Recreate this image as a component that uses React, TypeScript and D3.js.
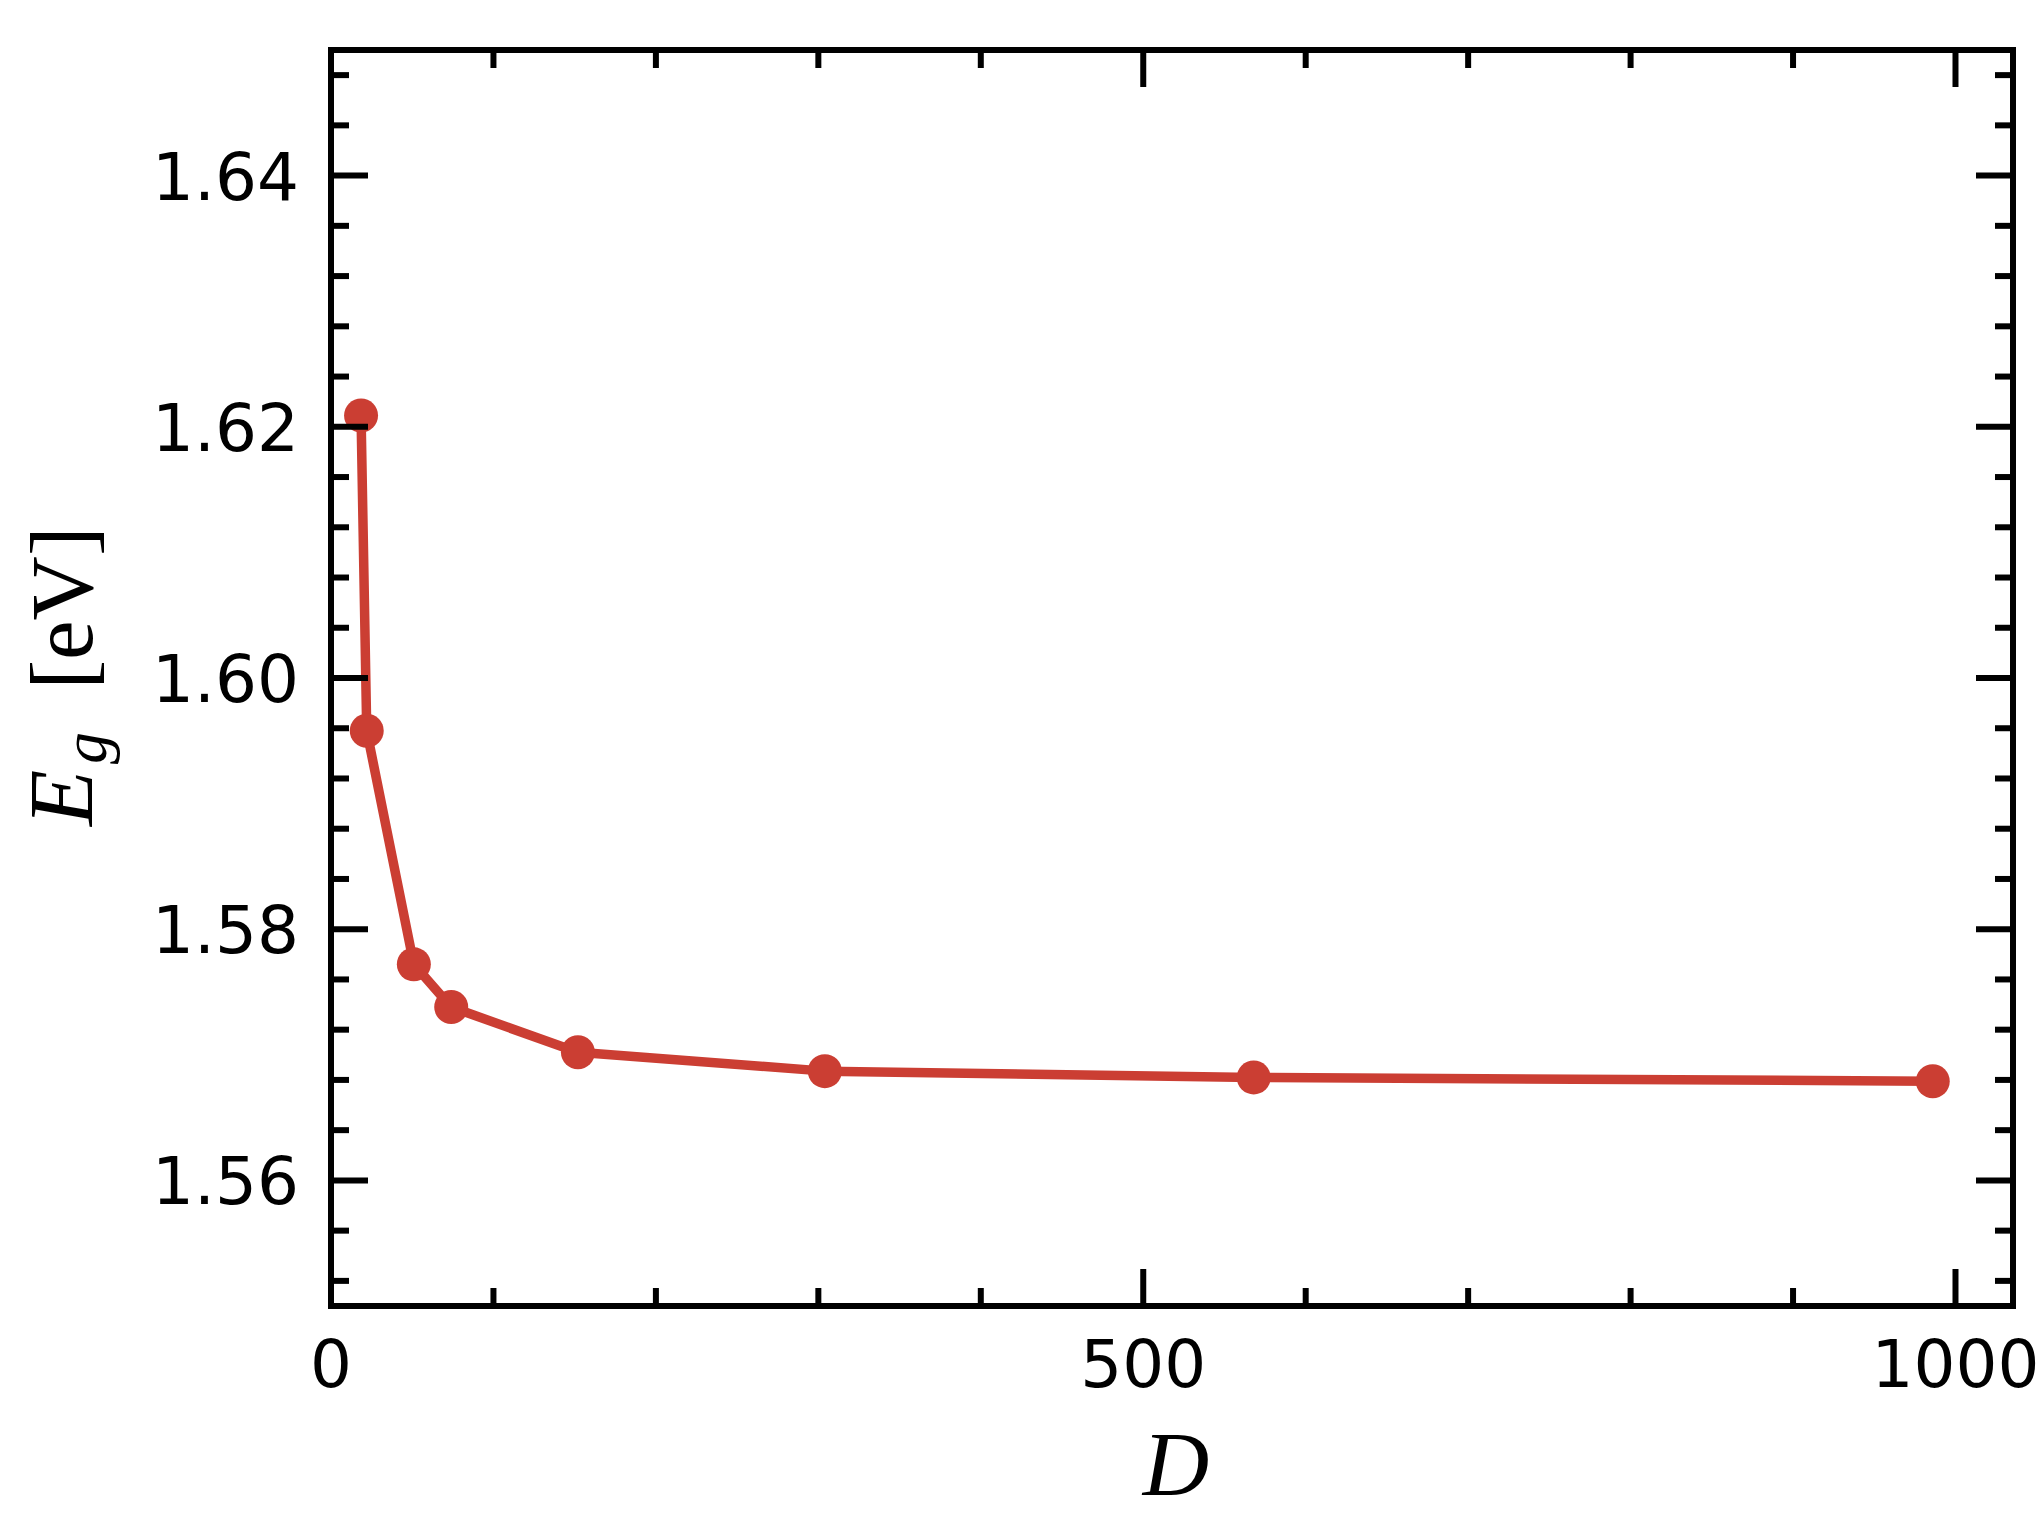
import React from "react";
import * as d3 from "d3";

const dValues = [18.5, 22, 51, 74, 152, 304, 568, 986];
const egValues = [1.6209, 1.5958, 1.5772, 1.5738, 1.5702, 1.5687, 1.5682, 1.5679];
const xMajorTicks = [0, 500, 1000];
const xMinorTicks = [100, 200, 300, 400, 600, 700, 800, 900];
const yMajorTicks = [1.56, 1.58, 1.6, 1.62, 1.64];
const yMinorTicks = [1.552, 1.556, 1.564, 1.568, 1.572, 1.576, 1.584, 1.588, 1.592, 1.596, 1.604, 1.608, 1.612, 1.616, 1.624, 1.628, 1.632, 1.636, 1.644, 1.648];

const W = 2038;
const H = 1531;
const L = 331, R = 2013, T = 50, B = 1306;
const RED = "#cb3e33";

export default function App() {
  const x = d3.scaleLinear().domain([0, 1035.4]).range([L, R]);
  const y = d3.scaleLinear().domain([1.55, 1.65]).range([B, T]);
  const line = d3.line<number>().x((_, i) => x(dValues[i])).y((v) => y(v));
  const majLen = 37, minLen = 18, tw = 6;
  const tickFont = "'DejaVu Sans', sans-serif";
  const serif = "'Liberation Serif', 'DejaVu Serif', serif";
  return (
    <svg width={W} height={H} style={{ position: "absolute", left: 0, top: 0, background: "#fff" }}>
      <rect x={0} y={0} width={W} height={H} fill="#fff" />
      <path d={line(egValues) || ""} fill="none" stroke={RED} strokeWidth={9.5} strokeLinejoin="round" />
      {egValues.map((v, i) => (
        <circle key={i} cx={x(dValues[i])} cy={y(v)} r={17} fill={RED} />
      ))}
      {xMajorTicks.map((t) => (
        <g key={"xm" + t} stroke="#000" strokeWidth={tw}>
          <line x1={x(t)} x2={x(t)} y1={B} y2={B - majLen} />
          <line x1={x(t)} x2={x(t)} y1={T} y2={T + majLen} />
        </g>
      ))}
      {xMinorTicks.map((t) => (
        <g key={"xn" + t} stroke="#000" strokeWidth={tw}>
          <line x1={x(t)} x2={x(t)} y1={B} y2={B - minLen} />
          <line x1={x(t)} x2={x(t)} y1={T} y2={T + minLen} />
        </g>
      ))}
      {yMajorTicks.map((t) => (
        <g key={"ym" + t} stroke="#000" strokeWidth={tw}>
          <line x1={L} x2={L + majLen} y1={y(t)} y2={y(t)} />
          <line x1={R} x2={R - majLen} y1={y(t)} y2={y(t)} />
        </g>
      ))}
      {yMinorTicks.map((t) => (
        <g key={"yn" + t} stroke="#000" strokeWidth={tw}>
          <line x1={L} x2={L + minLen} y1={y(t)} y2={y(t)} />
          <line x1={R} x2={R - minLen} y1={y(t)} y2={y(t)} />
        </g>
      ))}
      <rect x={L} y={T} width={R - L} height={B - T} fill="none" stroke="#000" strokeWidth={6} />
      {xMajorTicks.map((t) => (
        <text key={"xl" + t} x={x(t)} y={1387} textAnchor="middle" fontFamily={tickFont} fontSize={66} fill="#000">
          {String(t)}
        </text>
      ))}
      {yMajorTicks.map((t) => (
        <text key={"yl" + t} x={299} y={y(t) + 24} textAnchor="end" fontFamily={tickFont} fontSize={66} fill="#000">
          {t.toFixed(2)}
        </text>
      ))}
      <text x={1176} y={1495} textAnchor="middle" fontFamily={serif} fontStyle="italic" fontSize={92} fill="#000">
        D
      </text>
      <g transform="translate(92,680) rotate(-90)">
        <text x={-146} y={0} fontFamily={serif} fontStyle="italic" fontSize={92} fill="#000">E</text>
        <text x={-84} y={14} fontFamily={serif} fontStyle="italic" fontSize={64} fill="#000">g</text>
        <text x={72} y={0} textAnchor="middle" fontFamily={serif} fontSize={89} fill="#000">[eV]</text>
      </g>
    </svg>
  );
}
